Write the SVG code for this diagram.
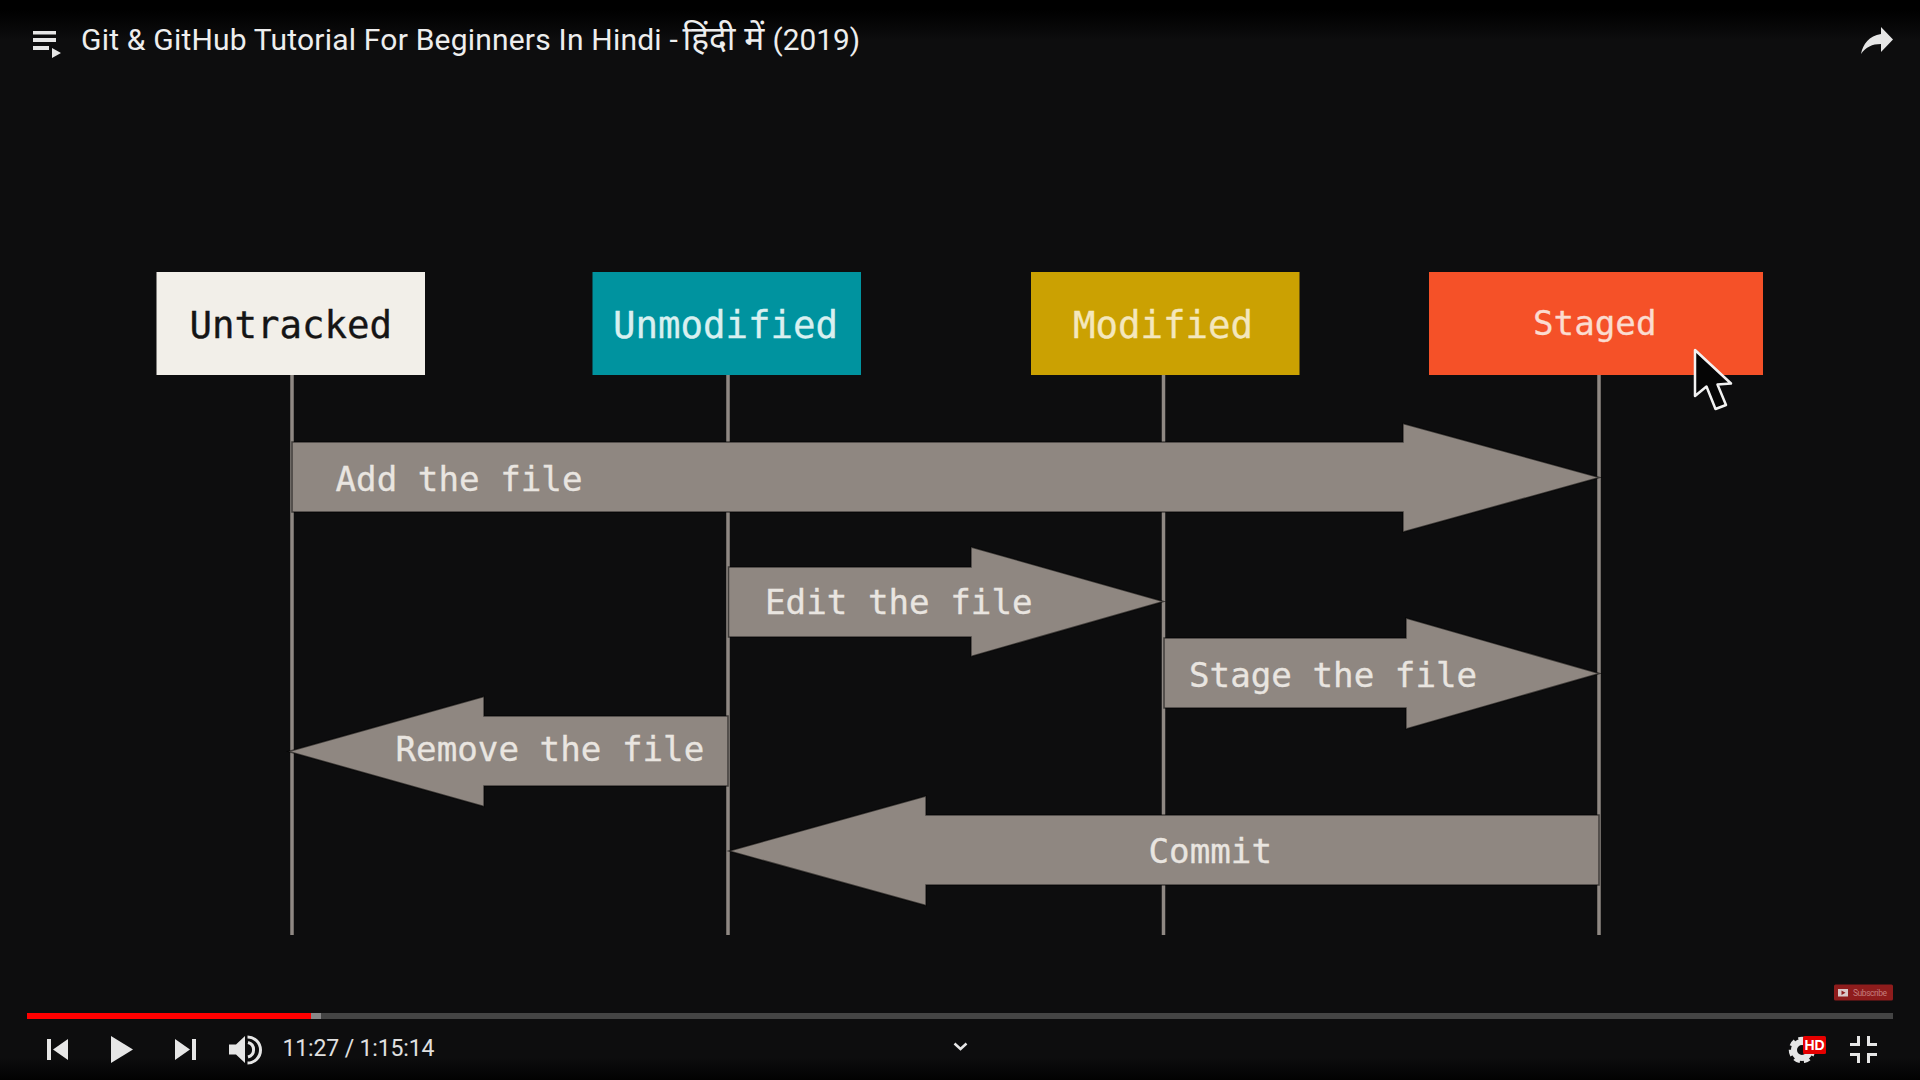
<svg xmlns="http://www.w3.org/2000/svg" width="1920" height="1080" viewBox="0 0 1920 1080">
<style>
.mono{font-family:"DejaVu Sans Mono","Liberation Mono",monospace}
.state{font-size:37.4px;stroke-width:.35}
.arrowlabel{font-size:34.2px;fill:#e9e5e0;stroke:#e9e5e0;stroke-width:.3}
.ui{font-family:Roboto,"Noto Sans",sans-serif}
.life{stroke:#8f8883;stroke-width:3.5;fill:none}
.arrow{fill:#8f8781;stroke:#000;stroke-opacity:.55;stroke-width:1.5}
.icon{fill:#e6e6e6}
</style>
<defs>
<linearGradient id="top" x1="0" y1="0" x2="0" y2="1"><stop offset="0" stop-color="#000"/><stop offset=".25" stop-color="#000"/><stop offset="1" stop-color="#0d0d0e"/></linearGradient>
<linearGradient id="bot" x1="0" y1="0" x2="0" y2="1"><stop offset="0" stop-color="#0d0d0e"/><stop offset="1" stop-color="#020202"/></linearGradient>
<clipPath id="gearclip"><rect x="1780" y="1030" width="50" height="33"/></clipPath>
</defs>
<rect width="1920" height="1080" fill="#0d0d0e"/>
<rect width="1920" height="40" fill="url(#top)"/>
<rect y="1058" width="1920" height="22" fill="url(#bot)"/>

<g id="player-top">
<path class="icon" d="M33 31h23v3.500H33zM33 38h23v4H33zM33 46h16v4H33zM52 48l9 5-9 5z"/>
<text class="ui" x="81" y="50" font-size="30" letter-spacing=".2" fill="#eeeeee">Git &amp; GitHub Tutorial For Beginners In Hindi -</text>
<text x="682.500" y="50" font-size="33.500" fill="#eeeeee" font-family="'Noto Sans Devanagari','Noto Sans','DejaVu Sans',sans-serif">हिंदी में</text>
<text class="ui" x="772.500" y="50" font-size="29.800" fill="#eeeeee">(2019)</text>
<path class="icon" d="M1881 27L1893 39.500 1881 52V44C1872 44 1866 47 1861 54C1863 44 1869 36 1881 34Z"/>
</g>

<g id="connectors">
<path class="life" d="M292 375V935M728 375V935M1163.500 375V935M1599 375V935"/>
<path class="arrow" d="M292 442H1403V423.500L1599.500 477.500 1403 532V512H292Z"/>
<path class="arrow" d="M728.500 567H971V547L1163.500 601.500 971 656.500V637H728.500Z"/>
<path class="arrow" d="M1164 638H1406V618L1599.500 673.500 1406 729V708H1164Z"/>
<path class="arrow" d="M728 716H484V696.500L288.500 751.500 484 806.500V786H728Z"/>
<path class="arrow" d="M1599 815H926V796L729 851 926 905.500V885H1599Z"/>
</g>

<g id="untracked"><rect x="156.500" y="272" width="268.500" height="103" fill="#f2efe9"/><text class="mono state" x="189.500" y="338" fill="#151515" stroke="#151515">Untracked</text></g>
<g id="unmodified"><rect x="592.500" y="272" width="268.500" height="103" fill="#00939f"/><text class="mono state" x="613" y="338" fill="#d9f0f0" stroke="#d9f0f0">Unmodified</text></g>
<g id="modified"><rect x="1031" y="272" width="268.500" height="103" fill="#cba102"/><text class="mono state" x="1073" y="338" fill="#f4e7bd" stroke="#f4e7bd">Modified</text></g>
<g id="staged"><rect x="1429" y="272" width="334" height="103" fill="#f55128"/><text class="mono arrowlabel" x="1533" y="335" style="fill:#fbdcd0;stroke:#fbdcd0">Staged</text></g>

<g id="labels">
<text class="mono arrowlabel" x="335.500" y="491">Add the file</text>
<text class="mono arrowlabel" x="765" y="614">Edit the file</text>
<text class="mono arrowlabel" x="1189" y="687">Stage the file</text>
<text class="mono arrowlabel" x="395.500" y="761">Remove the file</text>
<text class="mono arrowlabel" x="1148.500" y="863">Commit</text>
</g>

<path id="cursor" d="M1695 350V396L1706.500 386.500 1715.500 409 1726 405 1717.500 384.500 1731 383.500Z" fill="#050505" stroke="#f2f2f2" stroke-width="2.500" stroke-linejoin="round"/>

<g id="subscribe">
<rect x="1834" y="984.500" width="59" height="16" rx="1.500" fill="#8e1c1c"/>
<rect x="1838" y="989" width="10" height="7.500" fill="#d8c8c8"/><path d="M1841.500 990.500l4 2.200-4 2.200z" fill="#8e1c1c"/>
<text class="ui" x="1853" y="995.500" font-size="8.500" fill="#c47d7d" textLength="34">Subscribe</text>
</g>

<g id="player-bottom">
<rect x="27" y="1013" width="1866" height="6" fill="#444"/>
<rect x="311" y="1013" width="10" height="6" fill="#888"/>
<rect x="27" y="1013" width="284" height="6" fill="#f00"/>
<path class="icon" d="M47 1039h4v21h-4zM68 1039v21l-15-10.500z"/>
<path class="icon" d="M111 1036v27l22-13.500z"/>
<path class="icon" d="M175 1039v21l15-10.500zM192 1039h4v21h-4z"/>
<path class="icon" d="M229 1044.500h7l9-8.500v27l-9-8.500h-7z"/>
<path d="M248 1042.500a7.500 7.500 0 0 1 0 14.500M247.500 1037a13 13 0 0 1 0 26" fill="none" stroke="#e6e6e6" stroke-width="3"/>
<text class="ui" x="282.500" y="1056" font-size="23" fill="#e0e0e0" textLength="152">11:27 / 1:15:14</text>
<path d="M954.500 1043.500l6 5.500 6-5.500" fill="none" stroke="#e6e6e6" stroke-width="2.500"/>
<g clip-path="url(#gearclip)">
<circle cx="1802" cy="1050" r="8" fill="none" stroke="#e6e6e6" stroke-width="6"/>
<circle cx="1802" cy="1050" r="11.500" fill="none" stroke="#e6e6e6" stroke-width="3.500" stroke-dasharray="6 4.040"/>
</g>
<rect x="1803" y="1036" width="23" height="18" rx="1.500" fill="#e60000"/>
<text x="1814.500" y="1050" font-family="'Liberation Sans',sans-serif" font-weight="700" font-size="14" fill="#fff" text-anchor="middle">HD</text>
<path class="icon" d="M1850 1043h7v-7h3v10h-10zM1867 1036h3v7h7v3h-10zM1850 1053h10v10h-3v-7h-7zM1867 1053h10v3h-7v7h-3z"/>
</g>
</svg>
